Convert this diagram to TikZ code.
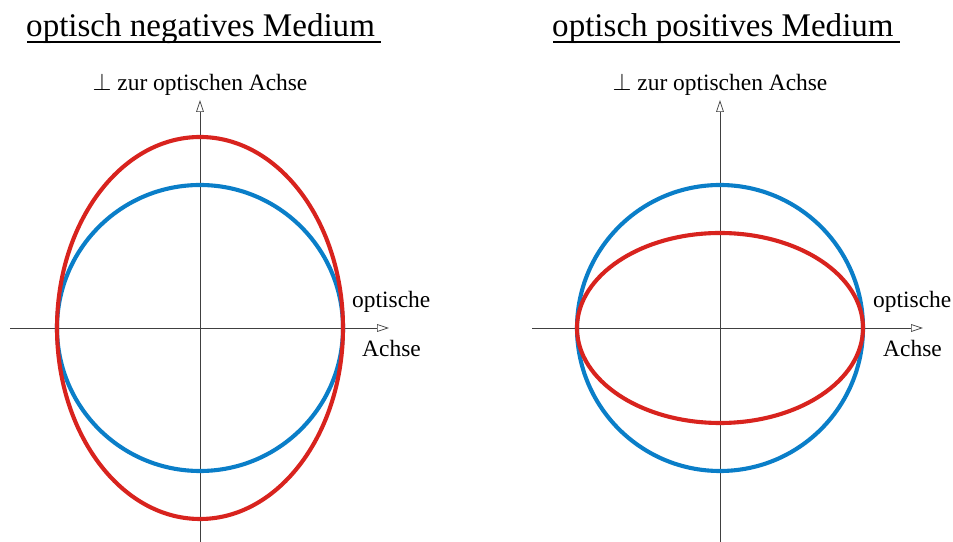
\documentclass[tikz,border=0pt]{standalone}
\usepackage{fontspec}
\setmainfont{Liberation Serif}
\usepackage{xcolor}
\usetikzlibrary{arrows.meta}
\definecolor{EllipseRed}{HTML}{D8231E}
\definecolor{CircleBlue}{HTML}{0A7EC8}
\definecolor{AxisInk}{gray}{0.25}
\tikzset{
  figure/.style={x=0.03cm,y=0.03cm,text=black},
  axis/.style={draw=AxisInk,line width=0.6pt,-{Triangle[open,length=3.6mm,width=2.3mm,fill=white]}},
  circleline/.style={draw=CircleBlue,line width=3.5pt},
  ellipseline/.style={draw=EllipseRed,line width=3.5pt},
  heading/.style={font=\fontsize{28.2}{33}\selectfont,anchor=base west,inner sep=0pt},
  axislabel/.style={font=\fontsize{20}{24}\selectfont,inner sep=0pt},
}

\begin{document}
\begin{tikzpicture}[figure]
  \useasboundingbox (0,0) rectangle (953,542);

  % left: optisch negativ
  \node[heading] (titleneg) at (26,505) {optisch negatives Medium};
  \draw[line width=1.7pt] (27,499.5) -- (381,499.5);
  \begin{scope}[shift={(200,214)}]
    \draw[axis] (-190,0) -- (189,0);
    \draw[axis] (0,-214) -- (0,228);
    \draw[circleline] (0,0) circle[radius=143];
    \draw[ellipseline] (0,0) ellipse[x radius=143,y radius=191];
    \node[axislabel,anchor=base] (perpneg) at (0,237) {$\perp$\ zur optischen Achse};
    \node[axislabel,anchor=base west] (optneg) at (152,20) {optische};
    \node[axislabel,anchor=base west] (achseneg) at (162,-29) {Achse};
  \end{scope}

  % right: optisch positiv
  \node[heading] (titlepos) at (552,505) {optisch positives Medium};
  \draw[line width=1.7pt] (553,499.5) -- (900,499.5);
  \begin{scope}[shift={(720,214)}]
    \draw[axis] (-188,0) -- (203,0);
    \draw[axis] (0,-214) -- (0,228);
    \draw[circleline] (0,0) circle[radius=143];
    \draw[ellipseline] (0,0) ellipse[x radius=143,y radius=95];
    \node[axislabel,anchor=base] (perppos) at (0,237) {$\perp$\ zur optischen Achse};
    \node[axislabel,anchor=base west] (optpos) at (153,20) {optische};
    \node[axislabel,anchor=base west] (achsepos) at (163,-29) {Achse};
  \end{scope}
\end{tikzpicture}
\end{document}
